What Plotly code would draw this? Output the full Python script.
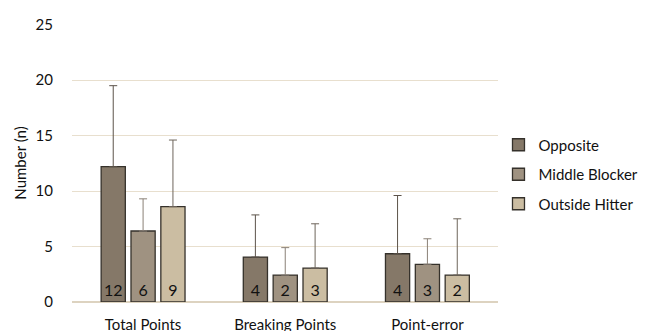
import plotly.graph_objects as go

categories = ["Total Points", "Breaking Points", "Point-error"]
series_names = ["Opposite", "Middle Blocker", "Outside Hitter"]
means = {
    "Opposite": [12.2, 4.05, 4.35],
    "Middle Blocker": [6.4, 2.43, 3.4],
    "Outside Hitter": [8.6, 3.06, 2.43],
}
upper = {
    "Opposite": [19.5, 7.85, 9.6],
    "Middle Blocker": [9.3, 4.9, 5.7],
    "Outside Hitter": [14.6, 7.05, 7.5],
}
labels = {
    "Opposite": ["12", "4", "4"],
    "Middle Blocker": ["6", "2", "3"],
    "Outside Hitter": ["9", "3", "2"],
}
yticks = [0, 5, 10, 15, 20, 25]

colors = {"Opposite": "#857868", "Middle Blocker": "#9f9281", "Outside Hitter": "#cbbda2"}
err_colors = {"Opposite": "#5c534a", "Middle Blocker": "#8a8076", "Outside Hitter": "#6e655b"}

FONT = "Lato, Open Sans, sans-serif"

fig = go.Figure()
for name in series_names:
    m = means[name]
    up = [u - v for u, v in zip(upper[name], m)]
    fig.add_trace(go.Bar(
        name=name, x=categories, y=m,
        marker=dict(color=colors[name], line=dict(color="#35312b", width=1.3)),
        error_y=dict(type="data", array=up, arrayminus=[0] * len(m), symmetric=False,
                     color=err_colors[name], thickness=1, width=4),
        text=labels[name], textposition="inside", insidetextanchor="start",
        textangle=0, constraintext="none",
        textfont=dict(family=FONT, size=16, color="#111111"),
        legendgroup=name,
    ))

# page body has an 8px default margin, so the figure is drawn 8px smaller
fig.update_layout(
    width=642, height=323,
    margin=dict(l=64, r=149, t=16, b=29),
    paper_bgcolor="white", plot_bgcolor="white",
    barmode="group", bargap=0.37, bargroupgap=0.19,
    font=dict(family=FONT, size=13, color="#111111"),
    showlegend=True,
    legend=dict(xref="container", yref="container", x=0.764, y=0.627,
                xanchor="left", yanchor="top",
                font=dict(size=15, color="#111111"),
                traceorder="grouped", tracegroupgap=7,
                bgcolor="rgba(0,0,0,0)"),
    yaxis=dict(range=[0, 25.06], tickvals=yticks, showgrid=True, gridcolor="#e8dfce",
               gridwidth=1, zeroline=True, zerolinecolor="#ddd3c0", zerolinewidth=2,
               ticks="", ticklabelstandoff=18, automargin=False,
               tickfont=dict(size=15, color="#111111"),
               title=dict(text="Number (n)", font=dict(size=15, color="#111111"), standoff=5)),
    xaxis=dict(showgrid=False, showline=False, ticks="", ticklabelstandoff=12, automargin=False,
               tickfont=dict(size=15, color="#111111")),
)

fig.write_html("out.html")
